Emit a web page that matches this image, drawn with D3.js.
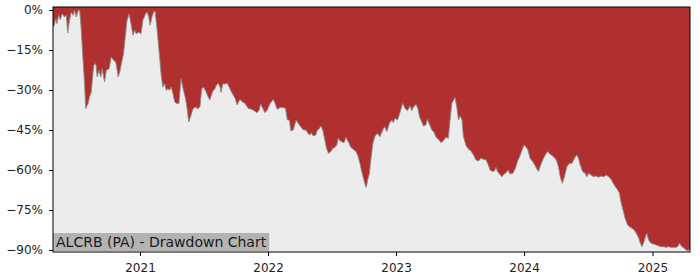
<!DOCTYPE html>
<html>
<head>
<meta charset="utf-8">
<script src="https://cdn.jsdelivr.net/npm/d3@7"></script>
<style>
  body { margin: 0; background: #fff; }
  text { font-family: "DejaVu Sans", sans-serif; }
</style>
</head>
<body>
<svg id="chart" width="700" height="280"></svg>
<script>
// drawdown values (%), one per date
const dates = [
  "2020-04-28","2020-05-01","2020-05-06","2020-05-09","2020-05-14","2020-05-19","2020-05-24","2020-05-31",
  "2020-06-05","2020-06-09","2020-06-14","2020-06-19","2020-06-24","2020-06-28","2020-07-03","2020-07-08",
  "2020-07-13","2020-07-17","2020-07-22","2020-07-27","2020-07-30","2020-08-06","2020-08-10","2020-08-15",
  "2020-08-22","2020-08-28","2020-09-01","2020-09-06","2020-09-11","2020-09-15","2020-09-22","2020-09-27",
  "2020-10-05","2020-10-11","2020-10-18","2020-10-24","2020-10-31","2020-11-04","2020-11-10","2020-11-15",
  "2020-11-21","2020-11-25","2020-12-01","2020-12-07","2020-12-12","2020-12-17","2020-12-21","2020-12-29",
  "2021-01-04","2021-01-09","2021-01-17","2021-01-21","2021-01-26","2021-01-30","2021-02-04","2021-02-09",
  "2021-02-13","2021-02-18","2021-02-26","2021-03-02","2021-03-07","2021-03-12","2021-03-17","2021-03-22",
  "2021-03-26","2021-03-31","2021-04-05","2021-04-10","2021-04-16","2021-04-22","2021-04-28","2021-05-05",
  "2021-05-11","2021-05-16","2021-05-20","2021-05-25","2021-06-01","2021-06-08","2021-06-15","2021-06-21",
  "2021-06-26","2021-07-02","2021-07-08","2021-07-14","2021-07-19","2021-07-27","2021-08-03","2021-08-07",
  "2021-08-12","2021-08-17","2021-08-20","2021-08-25","2021-08-31","2021-09-07","2021-09-14","2021-09-21",
  "2021-09-29","2021-10-05","2021-10-13","2021-10-19","2021-10-27","2021-11-06","2021-11-15","2021-11-23",
  "2021-11-30","2021-12-06","2021-12-11","2021-12-17","2021-12-23","2021-12-30","2022-01-07","2022-01-11",
  "2022-01-16","2022-01-21","2022-01-27","2022-02-04","2022-02-13","2022-02-20","2022-02-25","2022-03-03",
  "2022-03-07","2022-03-14","2022-03-22","2022-03-28","2022-04-04","2022-04-12","2022-04-19","2022-04-24",
  "2022-04-29","2022-05-04","2022-05-10","2022-05-17","2022-05-21","2022-05-27","2022-06-01","2022-06-06",
  "2022-06-12","2022-06-17","2022-06-22","2022-06-29","2022-07-04","2022-07-11","2022-07-16","2022-07-20",
  "2022-07-25","2022-07-30","2022-08-06","2022-08-11","2022-08-18","2022-08-25","2022-09-01","2022-09-09",
  "2022-09-15","2022-09-20","2022-09-25","2022-09-30","2022-10-05","2022-10-08","2022-10-12","2022-10-17",
  "2022-10-21","2022-10-27","2022-11-02","2022-11-09","2022-11-16","2022-11-24","2022-11-29","2022-12-06",
  "2022-12-13","2022-12-20","2022-12-24","2022-12-29","2023-01-05","2023-01-10","2023-01-14","2023-01-20",
  "2023-01-27","2023-02-02","2023-02-10","2023-02-15","2023-02-19","2023-02-27","2023-03-04","2023-03-09",
  "2023-03-15","2023-03-20","2023-03-27","2023-03-31","2023-04-06","2023-04-13","2023-04-20","2023-04-25",
  "2023-05-02","2023-05-09","2023-05-16","2023-05-23","2023-05-30","2023-06-04","2023-06-09","2023-06-14",
  "2023-06-18","2023-06-23","2023-06-28","2023-07-03","2023-07-08","2023-07-12","2023-07-20","2023-07-27",
  "2023-08-02","2023-08-10","2023-08-17","2023-08-24","2023-08-31","2023-09-07","2023-09-15","2023-09-21",
  "2023-09-26","2023-10-03","2023-10-09","2023-10-13","2023-10-17","2023-10-23","2023-10-30","2023-11-05",
  "2023-11-11","2023-11-16","2023-11-22","2023-11-30","2023-12-07","2023-12-13","2023-12-21","2023-12-29",
  "2024-01-01","2024-01-07","2024-01-12","2024-01-18","2024-01-26","2024-02-02","2024-02-07","2024-02-11",
  "2024-02-16","2024-02-23","2024-03-01","2024-03-08","2024-03-15","2024-03-25","2024-04-02","2024-04-08",
  "2024-04-13","2024-04-19","2024-04-25","2024-05-02","2024-05-09","2024-05-16","2024-05-21","2024-05-26",
  "2024-05-31","2024-06-04","2024-06-09","2024-06-16","2024-06-23","2024-06-28","2024-07-03","2024-07-10",
  "2024-07-17","2024-07-25","2024-07-31","2024-08-07","2024-08-15","2024-08-22","2024-08-29","2024-09-05",
  "2024-09-10","2024-09-17","2024-09-24","2024-09-29","2024-10-03","2024-10-09","2024-10-15","2024-10-22",
  "2024-10-28","2024-11-04","2024-11-10","2024-11-16","2024-11-23","2024-11-27","2024-12-02","2024-12-07",
  "2024-12-12","2024-12-16","2024-12-21","2024-12-28","2025-01-04","2025-01-12","2025-01-19","2025-01-25",
  "2025-02-02","2025-02-09","2025-02-16","2025-02-23","2025-03-02","2025-03-10","2025-03-15","2025-03-19",
  "2025-03-26","2025-04-02","2025-04-07","2025-04-13","2025-04-18"
];
const drawdown = [
  -6.0,-6.1,-3.3,-5.1,-2.0,-3.6,-1.4,-2.6,
  -2.0,-8.6,-3.9,-0.75,-2.0,-0.1,-2.6,-0.4,
  0,-6.4,-17.6,-27.6,-37.0,-35.0,-32.6,-30.8,
  -20.7,-20.1,-25.1,-22.6,-25.1,-22.0,-27.0,-22.6,
  -22.0,-17.6,-18.9,-19.5,-25.1,-23.3,-19.5,-16.4,
  -8.9,-3.9,-1.4,-5.7,-9.5,-7.6,-8.9,-8.3,
  -8.9,-3.9,-1.4,-0.75,-2.6,-5.7,-2.6,-0.75,
  -0.4,-6.4,-17.6,-23.9,-28.9,-27.6,-30.1,-29.5,
  -30.1,-28.9,-31.4,-34.5,-35.1,-35.1,-25.8,-30.1,
  -33.3,-37.6,-42.0,-40.1,-37.0,-36.4,-37.0,-36.3,
  -29.4,-29.0,-30.6,-32.5,-33.75,-30.6,-29.4,-28.1,
  -27.5,-28.8,-30.9,-27.75,-27.75,-27.5,-29.4,-31.25,
  -33.1,-35.6,-33.5,-34.4,-35.0,-36.9,-37.25,-37.75,
  -38.5,-37.75,-35.25,-36.9,-38.5,-37.5,-35.0,-34.4,
  -33.5,-35.0,-37.25,-36.6,-36.6,-36.9,-41.25,-41.25,
  -45.25,-45.0,-41.25,-42.5,-43.75,-45.0,-45.0,-46.0,
  -46.9,-46.0,-47.25,-46.9,-45.25,-44.4,-43.5,-45.0,
  -48.75,-51.9,-53.75,-53.1,-51.9,-51.5,-50.6,-48.1,
  -49.0,-49.4,-49.75,-47.75,-49.4,-51.5,-52.25,-53.1,
  -55.0,-57.5,-60.6,-63.1,-65.6,-66.5,-63.75,-61.25,
  -56.25,-50.0,-47.25,-46.25,-47.5,-45.0,-43.75,-45.6,
  -42.5,-41.25,-42.25,-40.6,-41.25,-39.4,-37.5,-35.0,
  -36.9,-37.75,-36.0,-37.75,-36.5,-35.4,-36.9,-40.0,
  -41.9,-43.5,-43.1,-41.0,-42.75,-45.0,-46.0,-47.75,
  -48.5,-49.75,-49.0,-47.75,-48.1,-41.25,-35.0,-33.75,
  -32.75,-36.25,-41.25,-39.75,-41.25,-47.5,-51.0,-52.25,
  -52.75,-54.4,-56.25,-56.6,-55.6,-56.0,-56.25,-58.1,
  -60.0,-60.6,-60.25,-59.0,-60.6,-61.5,-62.5,-61.5,
  -61.0,-60.0,-61.5,-61.25,-59.4,-56.9,-54.4,-51.5,
  -50.6,-51.5,-52.5,-55.6,-56.9,-58.5,-59.75,-60.6,
  -58.5,-56.25,-54.4,-53.1,-54.0,-55.0,-56.25,-58.75,
  -62.5,-65.0,-62.5,-58.75,-57.5,-57.5,-56.25,-55.0,
  -54.4,-55.6,-58.1,-60.6,-61.25,-62.5,-61.25,-61.9,
  -62.5,-62.25,-62.75,-62.25,-62.5,-61.9,-62.5,-63.5,
  -64.75,-66.25,-67.5,-68.75,-71.9,-75.0,-78.1,-80.6,
  -81.25,-81.9,-82.5,-83.75,-85.6,-87.25,-88.75,-87.25,
  -85.0,-83.75,-86.25,-87.5,-87.75,-88.1,-88.5,-88.75,
  -88.75,-89.0,-88.75,-89.0,-89.0,-89.0,-88.5,-87.5,
  -88.75,-89.4,-90.0,-90.25,-89.4
];
const yTicks = [0, -15, -30, -45, -60, -75, -90];
const xTickYears = ["2021", "2022", "2023", "2024", "2025"];
const chartTitle = "ALCRB (PA) - Drawdown Chart";

const parse = d3.timeParse("%Y-%m-%d");
const data = dates.map((d, i) => ({date: parse(d), value: drawdown[i]}));

const svg = d3.select('#chart');
const plotLeft = 53, plotRight = 690, plotTop = 7, plotBottom = 252;

const x = d3.scaleTime()
      .domain(d3.extent(data, d => d.date))
      .range([plotLeft, plotRight]);
const y = d3.scaleLinear()
      .domain([-90.75, 1.125])
      .range([plotBottom, plotTop]);

// axes background
svg.append('rect')
   .attr('x', plotLeft).attr('y', plotTop)
   .attr('width', plotRight - plotLeft).attr('height', plotBottom - plotTop)
   .attr('fill', '#ececec');

// red area from the top of the plot down to the drawdown
const area = d3.area()
      .x(d => x(d.date))
      .y0(plotTop)
      .y1(d => y(d.value));

svg.append('path')
   .datum(data)
   .attr('d', area)
   .attr('fill', '#b03030');

const line = d3.line()
      .x(d => x(d.date))
      .y(d => y(d.value));

svg.append('path')
   .datum(data)
   .attr('d', line)
   .attr('fill', 'none')
   .attr('stroke', '#8a8a8a')
   .attr('stroke-width', 0.9);

// title box at bottom left
const titleBox = svg.append('rect')
      .attr('x', plotLeft)
      .attr('y', plotBottom - 19)
      .attr('height', 18)
      .attr('fill', '#b3b3b3');
const titleText = svg.append('text')
      .attr('x', plotLeft + 3)
      .attr('y', plotBottom - 5)
      .attr('font-size', 14)
      .attr('fill', '#1a1a1a')
      .text(chartTitle);
titleBox.attr('width', titleText.node().getComputedTextLength() + 6);

// axes
const yAxis = d3.axisLeft(y)
      .tickValues(yTicks)
      .tickSize(4)
      .tickPadding(6)
      .tickFormat(d => d3.format("d")(d) + "%");
const gy = svg.append('g')
      .attr('transform', `translate(${plotLeft},0)`)
      .call(yAxis);

const xAxis = d3.axisBottom(x)
      .tickValues(xTickYears.map(yr => parse(yr + "-01-01")))
      .tickSize(4)
      .tickPadding(7)
      .tickFormat(d3.timeFormat("%Y"));
const gx = svg.append('g')
      .attr('transform', `translate(0,${plotBottom})`)
      .call(xAxis);

[gx, gy].forEach(g => {
  g.select('.domain').remove();
  g.selectAll('text').attr('font-size', 12).attr('fill', '#222').attr('font-family', '"DejaVu Sans", sans-serif');
  g.selectAll('line').attr('stroke', '#000');
});

// frame
svg.append('rect')
   .attr('x', plotLeft).attr('y', plotTop)
   .attr('width', plotRight - plotLeft).attr('height', plotBottom - plotTop)
   .attr('fill', 'none')
   .attr('stroke', '#000')
   .attr('stroke-width', 1);
</script>
</body>
</html>
